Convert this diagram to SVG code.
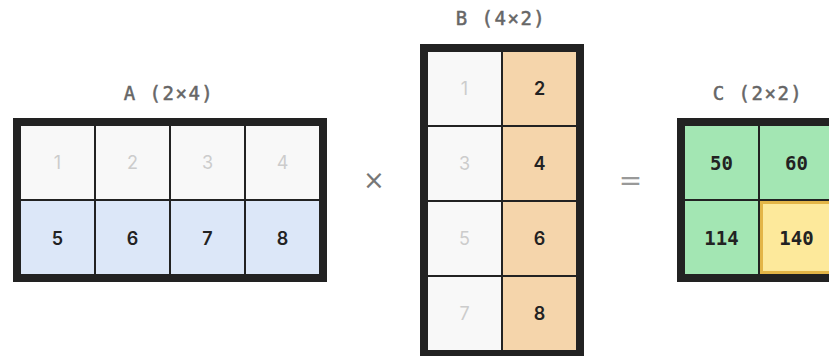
<svg xmlns="http://www.w3.org/2000/svg" width="829" height="356" viewBox="0 0 829 356">
<style>
.frame{fill:#222222}
.lbl{font-family:"DejaVu Sans Mono","Liberation Mono",monospace;font-size:19px;fill:#666666;stroke:#666666;stroke-width:0.5px;text-anchor:middle;letter-spacing:1.5px}
.dim{fill:#f8f8f8}
.blue{fill:#dce7f8}
.peach{fill:#f5d5ab}
.green{fill:#a3e6b3}
.yellow{fill:#fde99b;stroke:#e3b547;stroke-width:3}
.tl{font-family:"Inter","Noto Sans","Liberation Sans",sans-serif;font-size:18px;fill:#cccccc;text-anchor:middle}
.td{font-family:"Inter","Noto Sans","Liberation Sans",sans-serif;font-size:18px;font-weight:600;fill:#222222;text-anchor:middle}
.tm{font-family:"DejaVu Sans Mono","Liberation Mono",monospace;font-size:19px;font-weight:bold;fill:#222222;text-anchor:middle}
.op{font-family:"DejaVu Sans","Liberation Sans",sans-serif;text-anchor:middle}
</style>
<g id="matrixA">
<text class="lbl" x="169" y="100">A (2×4)</text>
<rect class="frame" x="13" y="118" width="314" height="164"/>
<rect class="dim" x="21" y="126" width="73" height="73"/>
<rect class="dim" x="96" y="126" width="73" height="73"/>
<rect class="dim" x="171" y="126" width="73" height="73"/>
<rect class="dim" x="246" y="126" width="73" height="73"/>
<rect class="blue" x="21" y="201" width="73" height="73"/>
<rect class="blue" x="96" y="201" width="73" height="73"/>
<rect class="blue" x="171" y="201" width="73" height="73"/>
<rect class="blue" x="246" y="201" width="73" height="73"/>
<text class="tl" x="57.5" y="169">1</text>
<text class="tl" x="132.5" y="169">2</text>
<text class="tl" x="207.5" y="169">3</text>
<text class="tl" x="282.5" y="169">4</text>
<text class="td" x="57.5" y="245">5</text>
<text class="td" x="132.5" y="245">6</text>
<text class="td" x="207.5" y="245">7</text>
<text class="td" x="282.5" y="245">8</text>
</g>
<g id="times">
<text class="op" x="374" y="189" font-size="26" fill="#777777">×</text>
</g>
<g id="matrixB">
<text class="lbl" x="501" y="25">B (4×2)</text>
<rect class="frame" x="420" y="44" width="164" height="314"/>
<rect class="dim" x="428" y="52" width="73" height="73"/>
<rect class="dim" x="428" y="127" width="73" height="73"/>
<rect class="dim" x="428" y="202" width="73" height="73"/>
<rect class="dim" x="428" y="277" width="73" height="73"/>
<rect class="peach" x="503" y="52" width="73" height="73"/>
<rect class="peach" x="503" y="127" width="73" height="73"/>
<rect class="peach" x="503" y="202" width="73" height="73"/>
<rect class="peach" x="503" y="277" width="73" height="73"/>
<text class="tl" x="464.5" y="95">1</text>
<text class="tl" x="464.5" y="170">3</text>
<text class="tl" x="464.5" y="245">5</text>
<text class="tl" x="464.5" y="320">7</text>
<text class="td" x="539.5" y="95">2</text>
<text class="td" x="539.5" y="170">4</text>
<text class="td" x="539.5" y="245">6</text>
<text class="td" x="539.5" y="320">8</text>
</g>
<g id="equals">
<text class="op" x="630.5" y="190" font-size="28" fill="#999999">=</text>
</g>
<g id="matrixC">
<text class="lbl" x="758" y="100">C (2×2)</text>
<rect class="frame" x="677" y="118" width="164" height="164"/>
<rect class="green" x="685" y="126" width="73" height="73"/>
<rect class="green" x="760" y="126" width="73" height="73"/>
<rect class="green" x="685" y="201" width="73" height="73"/>
<rect class="yellow" x="761.5" y="202.5" width="70" height="70"/>
<text class="tm" x="721.5" y="170">50</text>
<text class="tm" x="796.5" y="170">60</text>
<text class="tm" x="721.5" y="245">114</text>
<text class="tm" x="796.5" y="245">140</text>
</g>
</svg>
